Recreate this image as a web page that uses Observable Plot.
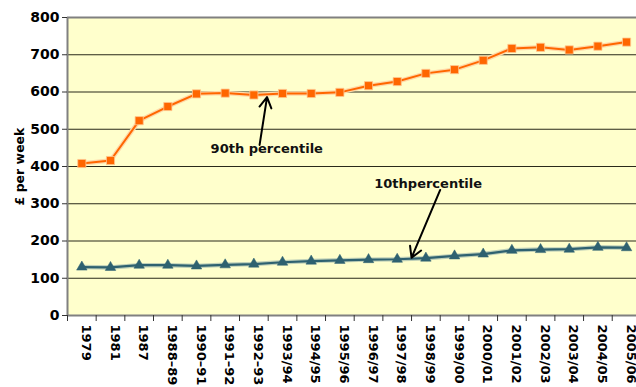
<!DOCTYPE html>
<html>
<head>
<meta charset="utf-8">
<script src="https://cdn.jsdelivr.net/npm/d3@7"></script>
<script src="https://cdn.jsdelivr.net/npm/@observablehq/plot@0.6"></script>
<style>
html, body { margin: 0; padding: 0; background: #fff; overflow: hidden; }
</style>
</head>
<body>
<div id="chart"></div>
<script>
const categories = ["1979","1981","1987","1988–89","1990–91","1991–92","1992–93","1993/94","1994/95","1995/96","1996/97","1997/98","1998/99","1999/00","2000/01","2001/02","2002/03","2003/04","2004/05","2005/06"];
const p90 = [408,416,523,561,595,597,592,596,596,599,617,628,650,660,685,717,720,713,723,734];
const p10 = [130,129,135,135,133,136,138,143,146,148,150,151,154,160,165,175,177,178,183,182];
const yTicks = [0,100,200,300,400,500,600,700,800];
const labels = [
  {text: "90th percentile", i: 6.45, v: 448},
  {text: "10thpercentile", i: 12.08, v: 353}
];
const arrows = [
  {i1: 6.2, v1: 458, i2: 6.46, v2: 586},
  {i1: 12.5, v1: 337, i2: 11.5, v2: 155}
];

const idx = categories.map((c, i) => i);
const rows90 = p90.map((v, i) => ({i, v}));
const rows10 = p10.map((v, i) => ({i, v}));
const boundaries = d3.range(0, categories.length + 1).map(d => d - 0.5);
const font = "'DejaVu Sans', Verdana, sans-serif";

const chart = Plot.plot({
  width: 636,
  height: 387,
  marginLeft: 67,
  marginRight: 0,
  marginTop: 17,
  marginBottom: 72,
  style: {fontFamily: font, background: "#fff", overflow: "visible"},
  x: {type: "linear", domain: [-0.5, categories.length - 0.5], range: [67, 640.4]},
  y: {domain: [0, 800]},
  marks: [
    Plot.frame({fill: "#FFFFCC", stroke: null}),
    Plot.ruleY(yTicks.filter(d => d > 0 && d < 800), {stroke: "#2a2a1a", strokeWidth: 1.2}),
    Plot.ruleY([800], {stroke: "#808080", strokeWidth: 2}),
    Plot.ruleY([0], {stroke: "#808080", strokeWidth: 2}),
    Plot.ruleX([-0.5], {stroke: "#808080", strokeWidth: 2}),
    Plot.axisY({ticks: yTicks, tickSize: 5, tickPadding: 3, fontSize: 14, fontWeight: "bold", stroke: "#333", label: null}),
    Plot.axisY({ticks: [], fontSize: 12.5, fontWeight: "bold",
      label: "£ per week", labelAnchor: "center", labelArrow: "none", labelOffset: 52}),
    Plot.axisX({ticks: boundaries, tickSize: 6, tickFormat: () => "", stroke: "#333", label: null}),
    Plot.text(idx, {x: d => d, frameAnchor: "bottom", dy: 9, rotate: 90, textAnchor: "start",
      text: d => categories[d], fontSize: 13, fontWeight: "bold", fill: "#000"}),
    Plot.line(rows90, {x: "i", y: "v", stroke: "#FFD9A8", strokeWidth: 4.5}),
    Plot.line(rows90, {x: "i", y: "v", stroke: "#FF6600", strokeWidth: 2}),
    Plot.dot(rows90, {x: "i", y: "v", symbol: "square", r: 4.6, fill: "#FF6600", stroke: "#FFC890", strokeWidth: 0.8}),
    Plot.line(rows10, {x: "i", y: "v", stroke: "#BFD0B8", strokeWidth: 4.5}),
    Plot.line(rows10, {x: "i", y: "v", stroke: "#2E6170", strokeWidth: 2.2}),
    Plot.dot(rows10, {x: "i", y: "v", symbol: "triangle", r: 3.9, fill: "#2E6170", stroke: "#2E6170", strokeWidth: 0.5}),
    Plot.text(labels, {x: "i", y: "v", text: "text", fontSize: 13, fontWeight: "bold", fill: "#111"}),
    Plot.arrow(arrows, {x1: "i1", y1: "v1", x2: "i2", y2: "v2", stroke: "#000", strokeWidth: 2, headLength: 9, bend: 0})
  ]
});
document.getElementById("chart").appendChild(chart);
</script>
</body>
</html>
